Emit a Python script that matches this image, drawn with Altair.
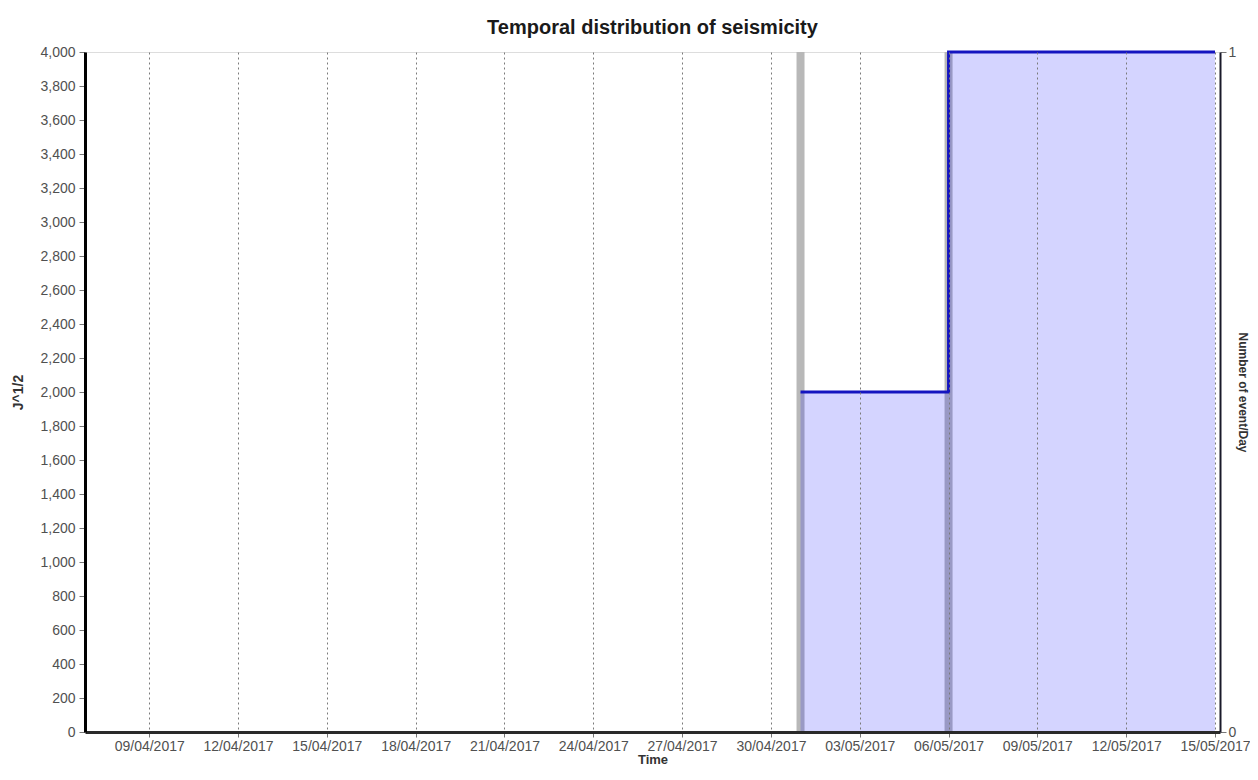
import altair as alt
import pandas as pd

# Daily event counts (right axis)
event_dates = ["2017-05-01", "2017-05-06"]
event_counts = [1, 1]

# Cumulative J^1/2 step series (left axis)
cum_dates = ["2017-05-01", "2017-05-06", "2017-05-15"]
cum_values = [2000, 4000, 4000]

# Axis ticks
x_tick_dates = [(2017, 4, 9), (2017, 4, 12), (2017, 4, 15), (2017, 4, 18), (2017, 4, 21),
                (2017, 4, 24), (2017, 4, 27), (2017, 4, 30), (2017, 5, 3), (2017, 5, 6),
                (2017, 5, 9), (2017, 5, 12), (2017, 5, 15)]
y_ticks = list(range(0, 4001, 200))

events = pd.DataFrame({"date": event_dates, "count": event_counts})
cum = pd.DataFrame({"date": cum_dates, "value": cum_values})

FONT = "Liberation Sans"

x_enc = alt.X(
    "date:T",
    scale=alt.Scale(
        type="utc",
        domain=[alt.DateTime(year=2017, month=4, date=7, utc=True),
                alt.DateTime(year=2017, month=5, date=15, utc=True)],
    ),
    axis=alt.Axis(
        title="Time",
        values=[alt.DateTime(year=y, month=m, date=d, utc=True) for (y, m, d) in x_tick_dates],
        format="%d/%m/%Y",
        grid=True,
        gridDash=[2, 3],
        gridColor="#7a7a7a",
        gridWidth=1,
        domainColor="#2a2a2a",
        domainWidth=3,
        tickColor="#777777",
        tickSize=5,
        labelPadding=2,
        labelFont=FONT,
        labelFontSize=14,
        labelColor="#505050",
        titleFont=FONT,
        titleFontSize=13,
        titleFontWeight="bold",
        titleColor="#333333",
        titlePadding=0,
        zindex=1,
    ),
)

bars = alt.Chart(events).mark_bar(size=8, color="#b8b8b8").encode(
    x=x_enc,
    y=alt.Y(
        "count:Q",
        scale=alt.Scale(domain=[0, 1]),
        axis=alt.Axis(
            orient="right",
            title="Number of event/Day",
            values=[0, 1],
            format="d",
            grid=False,
            domainColor="#1a1a2a",
            domainWidth=2,
            tickColor="#777777",
            tickSize=6,
            labelPadding=2,
            labelFont=FONT,
            labelFontSize=14,
            labelColor="#505050",
            titleFont=FONT,
            titleFontSize=12,
            titleFontWeight="bold",
            titleColor="#333333",
            titlePadding=0,
            zindex=1,
        ),
    ),
)

area = alt.Chart(cum).mark_area(
    interpolate="step-after",
    color="#0000ff",
    fillOpacity=0.17,
    line={"color": "#1414c0", "strokeWidth": 3, "interpolate": "step-after"},
).encode(
    x=x_enc,
    y=alt.Y(
        "value:Q",
        scale=alt.Scale(domain=[0, 4000]),
        axis=alt.Axis(
            orient="left",
            title="J^1/2",
            values=y_ticks,
            format=",d",
            grid=False,
            domainColor="#000000",
            domainWidth=3,
            tickColor="#777777",
            tickSize=6,
            labelPadding=4,
            labelFont=FONT,
            labelFontSize=14,
            labelColor="#505050",
            titleFont=FONT,
            titleFontSize=14,
            titleFontWeight="bold",
            titleColor="#333333",
            titlePadding=14,
            zindex=1,
        ),
    ),
)

chart = alt.layer(bars, area).resolve_scale(y="independent").properties(
    width=1135,
    height=680,
    title=alt.TitleParams(
        "Temporal distribution of seismicity",
        font=FONT,
        fontSize=20,
        fontWeight="bold",
        color="#1a1a1a",
        anchor="middle",
        offset=7,
    ),
    autosize=alt.AutoSizeParams(type="none"),
    padding={"left": 77, "top": 44, "right": 30, "bottom": 36},
).configure_view(
    stroke="#939393",
    strokeWidth=4,
).configure(background="white")

chart.save("out.html", embed_options={"renderer": "svg", "actions": False})
